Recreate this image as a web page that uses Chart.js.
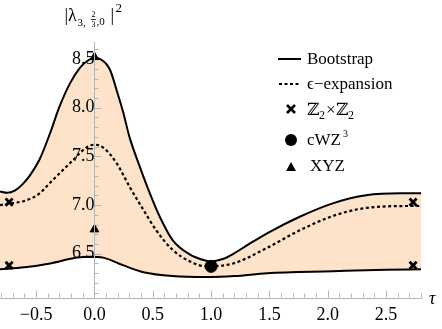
<!DOCTYPE html>
<html>
<head>
<meta charset="utf-8">
<script src="https://cdn.jsdelivr.net/npm/chart.js@4.4.1/dist/chart.umd.min.js"></script>
<style>
  html, body { margin: 0; padding: 0; background: #fff; }
  canvas { display: block; }
</style>
</head>
<body>
<canvas id="lambdaChart" width="442" height="329"></canvas>
<script>
var upperTau = [-0.81, -0.75, -0.68, -0.62, -0.55, -0.47, -0.38, -0.30, -0.21, -0.125, -0.05, 0.0, 0.05, 0.133, 0.19, 0.247, 0.30, 0.39, 0.475, 0.56, 0.67, 0.82, 0.92, 1.0, 1.1, 1.2, 1.3, 1.48, 1.76, 2.05, 2.33, 2.62, 2.8];
var upperVal = [7.14, 7.125, 7.15, 7.21, 7.31, 7.47, 7.74, 8.01, 8.25, 8.41, 8.49, 8.51, 8.50, 8.39, 8.18, 7.95, 7.70, 7.39, 7.12, 6.88, 6.64, 6.49, 6.44, 6.42, 6.445, 6.505, 6.58, 6.71, 6.88, 7.02, 7.10, 7.12, 7.12];

var lowerTau = [-0.81, -0.6, -0.38, -0.15, -0.04, 0.075, 0.25, 0.42, 0.67, 0.96, 1.2, 1.48, 2.04, 2.5, 2.8];
var lowerVal = [6.34, 6.36, 6.40, 6.46, 6.47, 6.46, 6.38, 6.31, 6.27, 6.26, 6.27, 6.30, 6.32, 6.335, 6.34];

var epsTau = [-0.81, -0.70, -0.58, -0.47, -0.38, -0.21, -0.07, 0.0, 0.075, 0.19, 0.30, 0.42, 0.53, 0.67, 0.82, 0.96, 1.19, 1.48, 1.76, 2.05, 2.33, 2.73, 2.8];
var epsVal = [7.00, 7.02, 7.05, 7.12, 7.23, 7.43, 7.59, 7.62, 7.59, 7.43, 7.19, 6.95, 6.74, 6.54, 6.42, 6.37, 6.40, 6.56, 6.74, 6.89, 6.97, 6.99, 6.99];

var z2Tau = [-0.732, -0.732, 2.732, 2.732];
var z2Val = [7.03, 6.38, 7.03, 6.38];
var cwzTau = [1.0];
var cwzVal = [6.37];
var xyzTau = [0.0, 0.0];
var xyzVal = [8.52, 6.75];

var xTicks = [-0.5, 0.0, 0.5, 1.0, 1.5, 2.0, 2.5];
var yTicks = [6.5, 7.0, 7.5, 8.0, 8.5];

function pts(xs, ys) {
    return xs.map(function(x, i) { return {x: x, y: ys[i]}; });
}

var serif = '"Liberation Serif", "DejaVu Serif", serif';

var decor = {
    id: 'decor',
    beforeDatasetsDraw: function(chart) {
        var ctx = chart.ctx, xs = chart.scales.x, ys = chart.scales.y;
        var area = chart.chartArea;
        var x0 = Math.round(xs.getPixelForValue(0)) + 0.5;
        var yb = Math.round(area.bottom) - 0.5;
        ctx.save();
        ctx.strokeStyle = '#b5b5b5';
        ctx.lineWidth = 1;
        // minor and major ticks on the x axis, pointing up
        for (var i = -8; i <= 28; i++) {
            var px = Math.round(xs.getPixelForValue(i / 10)) + 0.5;
            var len = (i % 5 === 0) ? 7 : 4;
            ctx.beginPath(); ctx.moveTo(px, yb); ctx.lineTo(px, yb - len); ctx.stroke();
        }
        // ticks on the y axis, pointing right
        for (var j = 61; j <= 86; j++) {
            var py = Math.round(ys.getPixelForValue(j / 10)) + 0.5;
            var l2 = (j % 5 === 0) ? 7 : 4;
            ctx.beginPath(); ctx.moveTo(x0, py); ctx.lineTo(x0 + l2, py); ctx.stroke();
        }
        ctx.restore();
    },
    afterDraw: function(chart) {
        var ctx = chart.ctx, area = chart.chartArea;
        var xs = chart.scales.x;
        ctx.save();
        ctx.fillStyle = '#000';
        ctx.textBaseline = 'alphabetic';

        // axis titles
        ctx.font = 'italic 18px ' + serif;
        ctx.fillText('\u03C4', area.right + 8, area.bottom + 6);

        var lx = xs.getPixelForValue(0) - 30;
        ctx.font = '18px ' + serif;
        ctx.fillText('|\u03BB', lx, 21);
        ctx.font = '11px ' + serif;
        ctx.fillText('3,', lx + 13, 26);
        ctx.font = '8px ' + serif;
        ctx.fillText('2', lx + 27, 17);
        ctx.fillText('3', lx + 27, 27);
        ctx.fillRect(lx + 26.5, 19, 5, 0.8);
        ctx.font = '11px ' + serif;
        ctx.fillText(',0', lx + 32, 25);
        ctx.font = '18px ' + serif;
        ctx.fillText('|', lx + 46, 21);
        ctx.font = '13px ' + serif;
        ctx.fillText('2', lx + 51, 12);

        // legend
        var tx = 307;
        ctx.font = '17px ' + serif;
        ctx.lineWidth = 2;
        ctx.strokeStyle = '#000';
        ctx.beginPath(); ctx.moveTo(278, 59); ctx.lineTo(301, 59); ctx.stroke();
        ctx.fillText('Bootstrap', tx, 64);

        ctx.setLineDash([3, 2.5]);
        ctx.beginPath(); ctx.moveTo(279, 84); ctx.lineTo(301, 84); ctx.stroke();
        ctx.setLineDash([]);
        ctx.fillText('\u03F5\u2212expansion', tx, 89);

        ctx.lineWidth = 2.6;
        ctx.beginPath();
        ctx.moveTo(287, 105); ctx.lineTo(295, 113);
        ctx.moveTo(295, 105); ctx.lineTo(287, 113);
        ctx.stroke();
        ctx.font = '17px "DejaVu Serif", serif';
        ctx.fillText('\u2124', tx, 115);
        ctx.font = '12px ' + serif;
        ctx.fillText('2', tx + 12, 119);
        ctx.font = '17px ' + serif;
        ctx.fillText('\u00D7', tx + 19, 115);
        ctx.font = '17px "DejaVu Serif", serif';
        ctx.fillText('\u2124', tx + 29, 115);
        ctx.font = '12px ' + serif;
        ctx.fillText('2', tx + 41, 119);

        ctx.beginPath(); ctx.arc(291, 140, 6, 0, Math.PI * 2); ctx.fill();
        ctx.font = '17px ' + serif;
        ctx.fillText('cWZ', tx, 145);
        ctx.font = '10px ' + serif;
        ctx.fillText('3', tx + 36, 137);

        ctx.beginPath();
        ctx.moveTo(291, 162); ctx.lineTo(296, 171); ctx.lineTo(286, 171); ctx.closePath(); ctx.fill();
        ctx.font = '17px ' + serif;
        ctx.fillText('XYZ', tx + 3, 171);
        ctx.restore();
    }
};

var ctx = document.getElementById('lambdaChart').getContext('2d');
var myChart = new Chart(ctx, {
    type: 'line',
    data: {
        datasets: [
            {
                label: 'Bootstrap',
                data: pts(upperTau, upperVal),
                borderColor: '#000',
                borderWidth: 2,
                pointRadius: 0,
                cubicInterpolationMode: 'monotone',
                fill: '+1',
                backgroundColor: '#fde3c9'
            },
            {
                label: 'Bootstrap lower',
                data: pts(lowerTau, lowerVal),
                borderColor: '#000',
                borderWidth: 2,
                pointRadius: 0,
                cubicInterpolationMode: 'monotone',
                fill: false
            },
            {
                label: '\u03F5\u2212expansion',
                data: pts(epsTau, epsVal),
                borderColor: '#000',
                borderWidth: 2.2,
                borderDash: [3, 2.6],
                pointRadius: 0,
                cubicInterpolationMode: 'monotone',
                fill: false
            },
            {
                label: 'Z2xZ2',
                data: pts(z2Tau, z2Val),
                showLine: false,
                pointStyle: 'crossRot',
                pointRadius: 5,
                borderWidth: 2.8,
                borderColor: '#000',
                clip: false
            },
            {
                label: 'cWZ3',
                data: pts(cwzTau, cwzVal),
                showLine: false,
                pointStyle: 'circle',
                pointRadius: 6,
                backgroundColor: '#000',
                borderColor: '#000',
                clip: false
            },
            {
                label: 'XYZ',
                data: pts(xyzTau, xyzVal),
                showLine: false,
                pointStyle: 'triangle',
                pointRadius: 5,
                backgroundColor: '#000',
                borderColor: '#000',
                clip: false
            }
        ]
    },
    options: {
        responsive: false,
        animation: false,
        devicePixelRatio: 1,
        layout: { autoPadding: false, padding: { left: 0, right: 21, top: 42, bottom: 0 } },
        plugins: {
            legend: { display: false },
            tooltip: { enabled: false },
            filler: { drawTime: 'beforeDatasetsDraw' }
        },
        scales: {
            x: {
                type: 'linear',
                min: -0.81,
                max: 2.8,
                afterBuildTicks: function(axis) {
                    axis.ticks = xTicks.map(function(v) { return {value: v}; });
                },
                afterFit: function(scale) {
                    scale.height = 31;
                    scale.paddingLeft = 0;
                    scale.paddingRight = 0;
                },
                grid: { display: false, drawTicks: false },
                border: { color: '#b5b5b5', width: 1 },
                ticks: {
                    padding: 6,
                    color: '#000',
                    font: { family: serif, size: 18 },
                    callback: function(v) { return v.toFixed(1).replace('-', '\u2212'); }
                }
            },
            y: {
                type: 'linear',
                min: 6.045,
                max: 8.675,
                position: { x: 0 },
                afterBuildTicks: function(axis) {
                    axis.ticks = yTicks.map(function(v) { return {value: v}; });
                },
                afterFit: function(scale) {
                    scale.paddingTop = 0;
                    scale.paddingBottom = 0;
                },
                grid: { display: false, drawTicks: false },
                border: { color: '#b5b5b5', width: 1, z: 1 },
                ticks: {
                    z: 1,
                    padding: 4,
                    color: '#000',
                    font: { family: serif, size: 18 },
                    callback: function(v) { return v.toFixed(1); }
                }
            }
        }
    },
    plugins: [decor]
});
</script>
</body>
</html>
